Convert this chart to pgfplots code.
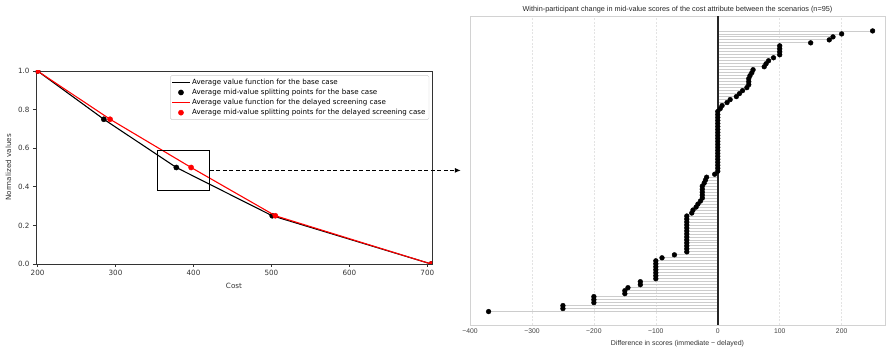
\documentclass[border=0pt]{standalone}
\usepackage{fontspec}
\setmainfont{DejaVu Sans}
\newfontfamily\arialfont{Liberation Sans}
\usepackage{pgfplots}
\usepackage{pgfplotstable}
\pgfplotsset{compat=1.18}
\usetikzlibrary{arrows.meta}

\pgfplotstableread{
x y
200 1.0
285 0.75
378 0.5
501 0.25
705 0.0
}\basecase
\pgfplotstableread{
x y
200 1.0
293 0.75
397 0.5
505 0.25
705 0.0
}\delayed
\pgfplotstableread{
v i
-370 0
-250 1
-250 2
-200 3
-200 4
-200 5
-150 6
-150 7
-145 8
-125 9
-125 10
-100 11
-100 12
-100 13
-100 14
-100 15
-100 16
-100 17
-90 18
-70 19
-50 20
-50 21
-50 22
-50 23
-50 24
-50 25
-50 26
-50 27
-50 28
-50 29
-50 30
-50 31
-50 32
-42 33
-40 34
-35 35
-32 36
-28 37
-25 38
-25 39
-25 40
-25 41
-25 42
-22 43
-20 44
-18 45
-5 46
0 47
0 48
0 49
0 50
0 51
0 52
0 53
0 54
0 55
0 56
0 57
0 58
0 59
0 60
0 61
0 62
0 63
0 64
0 65
0 66
0 67
4 68
7 69
15 70
20 71
30 72
35 73
40 74
47 75
50 76
50 77
50 78
52 79
55 80
57 81
75 82
78 83
82 84
90 85
100 86
100 87
100 88
100 89
150 90
180 91
186 92
200 93
250 94
}\diffs

\begin{document}
\begin{tikzpicture}[x=1pt,y=1pt]
\useasboundingbox (0,0) rectangle (886,350);
% ---------------- left panel ----------------
\begin{axis}[
  at={(36pt,86pt)}, anchor=south west, scale only axis,
  width=396pt, height=193pt,
  xmin=198, xmax=706, ymin=0, ymax=1,
  clip marker paths=true,
  xtick={200,300,400,500,600,700}, xticklabels={200,300,400,500,600,700},
  ytick={0,0.2,0.4,0.6,0.8,1}, yticklabels={0.0,0.2,0.4,0.6,0.8,1.0},
  xtick pos=bottom, ytick pos=left,
  tick align=outside, major tick length=3pt,
  tick style={black!80, line width=0.6pt},
  axis line style={black!80, line width=0.7pt},
  ticklabel style={font=\fontsize{7.2}{8.5}\selectfont, text=black!80},
  label style={font=\fontsize{7.2}{8.5}\selectfont, text=black!80},
  xlabel={Cost}, ylabel={Normalized values},
  legend cell align=left,
  legend style={at={(0.993,0.978)}, anchor=north east, draw=black!20,
    rounded corners=1.5pt, font=\fontsize{7.1}{8}\selectfont,
    inner sep=1.5pt, row sep=-0.8pt},
]
\addplot[black, line width=1.1pt] table {\basecase};
\addlegendentry{Average value function for the base case}
\addplot[only marks, mark=*, mark size=2.6pt, black] table {\basecase};
\addlegendentry{Average mid-value splitting points for the base case}
\addplot[red, line width=1.1pt] table {\delayed};
\addlegendentry{Average value function for the delayed screening case}
\addplot[only marks, mark=*, mark size=2.6pt, red] table {\delayed};
\addlegendentry{Average mid-value splitting points for the delayed screening case}
\draw[black, line width=0.8pt] (axis cs:354,0.38) rectangle (axis cs:421,0.59);
\coordinate (A) at (axis cs:421,0.485);
\coordinate (B) at (axis cs:743,0.485);
\end{axis}
\draw[black, line width=1pt, dash pattern=on 4pt off 2.5pt, -{Latex[length=6pt,width=5pt]}] (A) -- (B);
% ---------------- right panel ----------------
\begin{axis}[
  at={(470pt,25pt)}, anchor=south west, scale only axis,
  width=415pt, height=309pt,
  xmin=-400, xmax=270, ymin=-4.5, ymax=99,
  ytick=\empty,
  xtick={-400,-300,-200,-100,0,100,200},
  xticklabels={−400,−300,−200,−100,0,100,200},
  xmajorgrids,
  grid style={gray!22, dash pattern=on 2pt off 1.5pt, line width=0.5pt},
  major tick length=0pt,
  axis line style={gray!35, line width=0.8pt},
  ticklabel style={font=\arialfont\fontsize{6.8}{8}\selectfont, text=black!75},
  xlabel={Difference in scores (immediate − delayed)},
  xlabel style={font=\arialfont\fontsize{7}{8}\selectfont, text=black!80},
  title={Within-participant change in mid-value scores of the cost attribute between the scenarios (n=95)},
  title style={font=\arialfont\fontsize{7.3}{8.5}\selectfont, text=black!85, yshift=-6.5pt},
]
\addplot[xcomb, gray!40, line width=0.8pt] table[x=v, y=i] {\diffs};
\addplot[black!85, line width=1.5pt] coordinates {(0,-4.5) (0,99)};
\addplot[only marks, mark=*, mark size=2.4pt, black] table[x=v, y=i] {\diffs};
\end{axis}
\end{tikzpicture}
\end{document}
